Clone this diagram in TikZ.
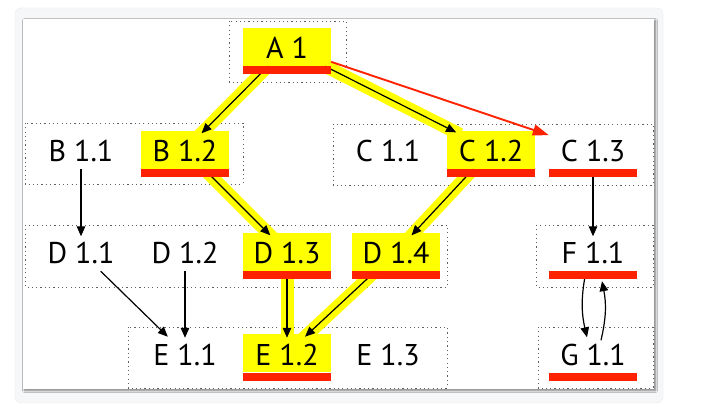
\documentclass[tikz,border=0pt]{standalone}
\usepackage{fontspec}
\setmainfont{PT Sans}
\usetikzlibrary{arrows.meta,shadows.blur}
\pgfdeclarelayer{bgzero}\pgfdeclarelayer{bgone}
\pgfsetlayers{bgzero,bgone,main}
\definecolor{hlyellow}{RGB}{255,255,0}
\definecolor{barred}{RGB}{255,34,0}
\definecolor{framegray}{RGB}{246,247,249}
\definecolor{frameedge}{RGB}{236,237,240}
\definecolor{dotgray}{RGB}{95,95,95}
\begin{document}
\begin{tikzpicture}[x=1pt,y=-1pt,
  item/.style={rectangle, inner sep=0pt, minimum width=88pt, minimum height=38pt,
    text height=24pt, text depth=0pt, font=\fontsize{30}{30}\selectfont},
  hl/.style={item, fill=hlyellow},
  bar/.style={fill=barred},
  groupbox/.style={draw=dotgray, line width=0.9pt, dash pattern=on 1.2pt off 3.1pt},
  arr/.style={draw=black, line width=1.2pt, -{Triangle[length=10pt,width=8.5pt]}, shorten >=-3.5pt},
  band/.style={draw=hlyellow, line width=13pt, shorten >=-8pt, shorten <=-8pt},
  redarr/.style={draw=barred, line width=1.9pt, -{Triangle[length=16pt,width=11pt]}},
]
\useasboundingbox (0,0) rectangle (715,411);
\begin{pgfonlayer}{bgzero}
  \fill[white] (0,0) rectangle (715,411);
  \filldraw[fill=framegray, draw=frameedge, rounded corners=6pt] (15,8) rectangle (663,403);
  \fill[white, blur shadow={shadow xshift=1.5pt, shadow yshift=-1.5pt, shadow blur steps=6, shadow opacity=50}] (23,19) rectangle (654,389);
  % group boxes
  \draw[groupbox] (229,21) rectangle (346,82);
  \draw[groupbox] (25,123) rectangle (243,184);
  \draw[groupbox] (333,124) rectangle (653,185);
  \draw[groupbox] (25,225) rectangle (447,287);
  \draw[groupbox] (536,225) rectangle (653,287);
  \draw[groupbox] (128,327) rectangle (447,388);
  \draw[groupbox] (538,327) rectangle (653,388);
\end{pgfonlayer}

% nodes
\node[hl]   (A)   at (287,47)    {A 1};
\node[item] (B11) at (81,150)    {B 1.1};
\node[hl]   (B12) at (185,150)   {B 1.2};
\node[item] (C11) at (388,150)   {C 1.1};
\node[hl]   (C12) at (491,150)   {C 1.2};
\node[item] (C13) at (593,150)   {C 1.3};
\node[item] (D11) at (81,252)    {D 1.1};
\node[item] (D12) at (185,252)   {D 1.2};
\node[hl]   (D13) at (287,252)   {D 1.3};
\node[hl]   (D14) at (396,252)   {D 1.4};
\node[item] (F11) at (593,252)   {F 1.1};
\node[item] (E11) at (185,353.5) {E 1.1};
\node[hl]   (E12) at (287,353.5) {E 1.2};
\node[item] (E13) at (388,353.5) {E 1.3};
\node[item] (G11) at (593,353.5) {G 1.1};

% highlight bands
\begin{pgfonlayer}{bgone}
  \path[band] (A) -- (B12);
  \path[band] (A) -- (C12);
  \path[band] (B12) -- (D13);
  \path[band] (C12) -- (D14);
  \path[band] (D13) -- (E12);
  \path[band] (D14) -- (E12);
\end{pgfonlayer}

% connectors
\draw[arr] (A) -- (B12);
\draw[arr] (A) -- (C12);
\draw[arr] (B12) -- (D13);
\draw[arr] (C12) -- (D14);
\draw[arr] (D13) -- (E12);
\draw[arr] (D14) -- (E12);
\draw[arr] (B11) -- (D11);
\draw[arr] (C13) -- (F11);
\draw[arr] (D11) -- (E11);
\draw[arr] (D12) -- (E11);
\draw[arr, shorten >=0pt] ([xshift=-7pt]F11.south) to[bend right=12] ([xshift=-6pt,yshift=-3pt]G11.north);
\draw[arr, shorten >=0pt] ([xshift=8pt,yshift=-6pt]G11.north) to[bend right=12] ([xshift=9pt,yshift=-10pt]F11.south);

% red bars
\foreach \n in {A,B12,C12,C13,D13,D14,E12,F11,G11}
  \fill[bar] (\n.south west) rectangle ([yshift=-8pt]\n.south east);

\draw[redarr] (A) -- (C13);
\end{tikzpicture}
\end{document}
